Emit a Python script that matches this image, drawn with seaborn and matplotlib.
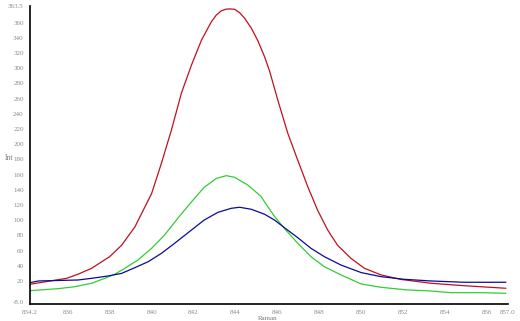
import numpy as np
import pandas as pd
import matplotlib
matplotlib.use("Agg")
import matplotlib.pyplot as plt
import seaborn as sns

# ---- data ----
red_x = [834.2, 835.95, 836.5, 837.14, 838.0, 838.57, 839.2, 840.0, 840.47, 840.95,
         841.42, 841.9, 842.38, 842.85, 843.09, 843.33, 843.53, 843.7, 843.96, 844.2,
         844.44, 844.75, 845.07, 845.39, 845.63, 846.02, 846.5, 846.97, 847.45, 847.92,
         848.4, 848.87, 849.5, 850.15, 850.94, 851.9, 853.33, 854.9, 856.9]
red_y = [15.7, 23.5, 29, 36.7, 52, 67, 91, 135, 175, 219,
         267, 304, 337, 361, 370, 375.5, 377.5, 378, 377.5, 373,
         365.6, 353, 336, 315, 296, 258, 214, 179, 144, 113,
         87, 67, 50, 36.7, 28, 22, 17, 13.8, 10.4]

green_x = [834.2, 835.55, 836.34, 837.14, 837.77, 838.25, 838.72, 839.35, 840.0, 840.62,
           841.25, 841.9, 842.5, 843.09, 843.57, 843.96, 844.6, 845.23, 845.39, 845.87,
           846.34, 846.97, 847.6, 848.24, 849.03, 850.0, 850.94, 852.2, 853.33, 854.28,
           855.7, 856.9]
green_y = [7.2, 9.9, 12.5, 17, 23.5, 29, 36.7, 47.6, 63, 80.5,
           102.5, 124, 143, 155, 158.6, 156.4, 146, 131, 124, 104.6,
           89, 69.6, 52, 38.8, 28, 16, 11.7, 8.2, 6.8, 4.6,
           4.6, 3.8]

blue_x = [834.2, 834.6, 836.5, 837.14, 837.93, 838.57, 839.2, 839.84, 840.47, 841.1,
          841.9, 842.5, 843.17, 843.8, 844.2, 844.76, 845.39, 845.87, 846.34, 846.97,
          847.6, 848.24, 849.03, 850.0, 850.94, 852.05, 853.33, 854.9, 856.9]
blue_y = [17.8, 20, 21.3, 23.5, 26.6, 30, 37.5, 45.4, 56.4, 69.6,
          87, 100, 110.4, 115.6, 117, 114.3, 107.8, 100, 90, 77,
          63, 52, 41, 31, 25.7, 22.2, 20, 18.3, 18.3]

x_ticks = [834.2, 836, 838, 840, 842, 844, 846, 848, 850, 852, 854, 856, 857.0]
x_tick_labels = ["834.2", "836", "838", "840", "842", "844", "846", "848", "850",
                 "852", "854", "856", "857.0"]
y_ticks_mid = [20, 40, 60, 80, 100, 120, 140, 160, 180, 200, 220, 240, 260, 280,
               300, 320, 340, 360]
y_bottom_label = "-8.0"
y_top_label = "363.5"
x_title = "Raman"
y_title = "Int"

# ---- plot ----
sns.set_style("white")
plt.rcParams['font.family'] = ['Liberation Serif', 'DejaVu Serif']

fig = plt.figure(figsize=(5.2, 3.21), dpi=100)
ax = fig.add_axes([30/520, 17/321, 478/520, 298/321])

df_r = pd.DataFrame({"x": red_x, "y": red_y})
df_g = pd.DataFrame({"x": green_x, "y": green_y})
df_b = pd.DataFrame({"x": blue_x, "y": blue_y})
sns.lineplot(data=df_r, x="x", y="y", ax=ax, color="#C0101E", lw=0.9)
sns.lineplot(data=df_g, x="x", y="y", ax=ax, color="#33CC33", lw=0.9)
sns.lineplot(data=df_b, x="x", y="y", ax=ax, color="#0A0A9A", lw=0.9)

ylo, yhi = -10.3, 381.8
ax.set_xlim(834.2, 857.0)
ax.set_ylim(ylo, yhi)

ax.set_xticks(x_ticks)
ax.set_xticklabels(x_tick_labels)
ax.set_yticks([-8.0] + y_ticks_mid + [yhi])
ax.set_yticklabels([y_bottom_label] + [str(v) for v in y_ticks_mid] + [y_top_label])

ax.tick_params(axis="both", labelsize=5, colors="black", labelcolor="#8a8a8a",
               length=2, width=0.8, pad=2.5)
ax.tick_params(axis="x", pad=2)
for s in ["top", "right"]:
    ax.spines[s].set_visible(False)
for s in ["left", "bottom"]:
    ax.spines[s].set_color("black")
    ax.spines[s].set_linewidth(1.2)

ax.set_xlabel("")
ax.set_ylabel("")
fig.text(268/520, 1 - 318.5/321, x_title, fontsize=5, color="#7a7a7a",
         ha="center", va="center")
fig.text(9/520, 1 - 158/321, y_title, fontsize=5.5, color="#7a7a7a",
         ha="center", va="center")

fig.savefig("out.png", dpi=100)
